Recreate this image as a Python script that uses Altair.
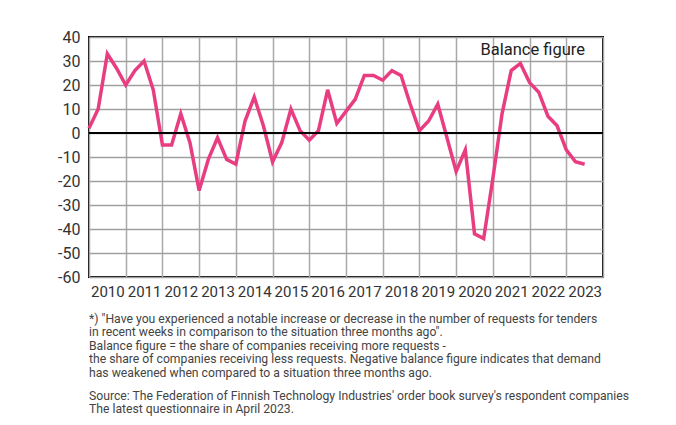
import altair as alt
import pandas as pd

years = list(range(2010, 2024))
q_values = [
    2, 10, 33, 27,      # 2010
    20, 26, 30, 18,     # 2011
    -5, -5, 8, -4,      # 2012
    -24, -11, -2, -11,  # 2013
    -13, 5, 15, 3,      # 2014
    -12, -4, 10, 1,     # 2015
    -3, 1, 18, 4,       # 2016
    9, 14, 24, 24,      # 2017
    22, 26, 24, 12,     # 2018
    1, 5, 12, -2,       # 2019
    -16, -7, -42, -44,  # 2020
    -19, 8, 26, 29,     # 2021
    21, 17, 7, 3,       # 2022
    -7, -12, -13,       # 2023
]
y_ticks = list(range(-60, 41, 10))
x_ticks = list(range(2010, 2025))

note_lines = [
    '*) "Have you experienced a notable increase or decrease in the number of requests for tenders',
    'in recent weeks in comparison to the situation three months ago".',
    'Balance figure = the share of companies receiving more requests -',
    'the share of companies receiving less requests. Negative balance figure indicates that demand',
    'has weakened when compared to a situation three months ago.',
]
source_lines = [
    "Source: The Federation of Finnish Technology Industries' order book survey's respondent companies",
    'The latest questionnaire in April 2023.',
]
label_text = ["Balance figure"]

df = pd.DataFrame({
    "t": [2010 + i / 4 for i in range(len(q_values))],
    "v": q_values,
})
zero_df = pd.DataFrame({"v": [0]})
label_df = pd.DataFrame({"label": label_text})

FONT = "Roboto"
W, H = 514, 240

x_enc = alt.X("t:Q", scale=alt.Scale(domain=[2010, 2024], nice=False, zero=False),
              axis=alt.Axis(values=x_ticks, labelExpr="datum.value >= 2024 ? '' : '' + datum.value",
                            labelOffset=18.35, labelFlush=False, ticks=False, domain=False, grid=True,
                            labelOverlap=False, gridColor="#a8a8a8", gridWidth=1.5, labelFontSize=15,
                            labelColor="#333333", labelPadding=7, labelFont=FONT, title=None))
y_enc = alt.Y("v:Q", scale=alt.Scale(domain=[-60, 40], nice=False),
              axis=alt.Axis(values=y_ticks, labelExpr="'' + datum.value", ticks=False, domain=False,
                            grid=True, labelOverlap=False, labelFlush=False, gridColor="#a0a0a0",
                            gridWidth=1.5, labelFontSize=16, labelColor="#333333", labelPadding=9,
                            labelFont=FONT, title=None))

line = alt.Chart(df).mark_line(color="#e93d82", strokeWidth=3.5, strokeJoin="miter").encode(x=x_enc, y=y_enc)
zero = alt.Chart(zero_df).mark_rule(color="black", strokeWidth=2).encode(y=y_enc)
label = alt.Chart(label_df).mark_text(align="right", baseline="alphabetic", fontSize=16.5, font=FONT,
                                      color="#222222").encode(
    x=alt.value(W - 18), y=alt.value(18), text="label:N")

chart = alt.layer(line, zero, label).properties(
    width=W, height=H,
    autosize=alt.AutoSizeParams(type="none"),
    padding={"left": 81, "top": 29, "right": 65, "bottom": 140},
    background="white",
    title=alt.TitleParams(text=note_lines, subtitle=source_lines, orient="bottom", anchor="start",
                          frame="group",
                          font=FONT, fontSize=12.2, fontWeight="normal", color="#444444",
                          lineHeight=13.4, offset=14, subtitleFont=FONT, subtitleFontSize=12.2,
                          subtitleColor="#444444", subtitleLineHeight=13.6, subtitlePadding=11),
).configure_view(stroke="black", strokeWidth=2)

chart.save("out.html", embed_options={"renderer": "svg", "actions": False})
